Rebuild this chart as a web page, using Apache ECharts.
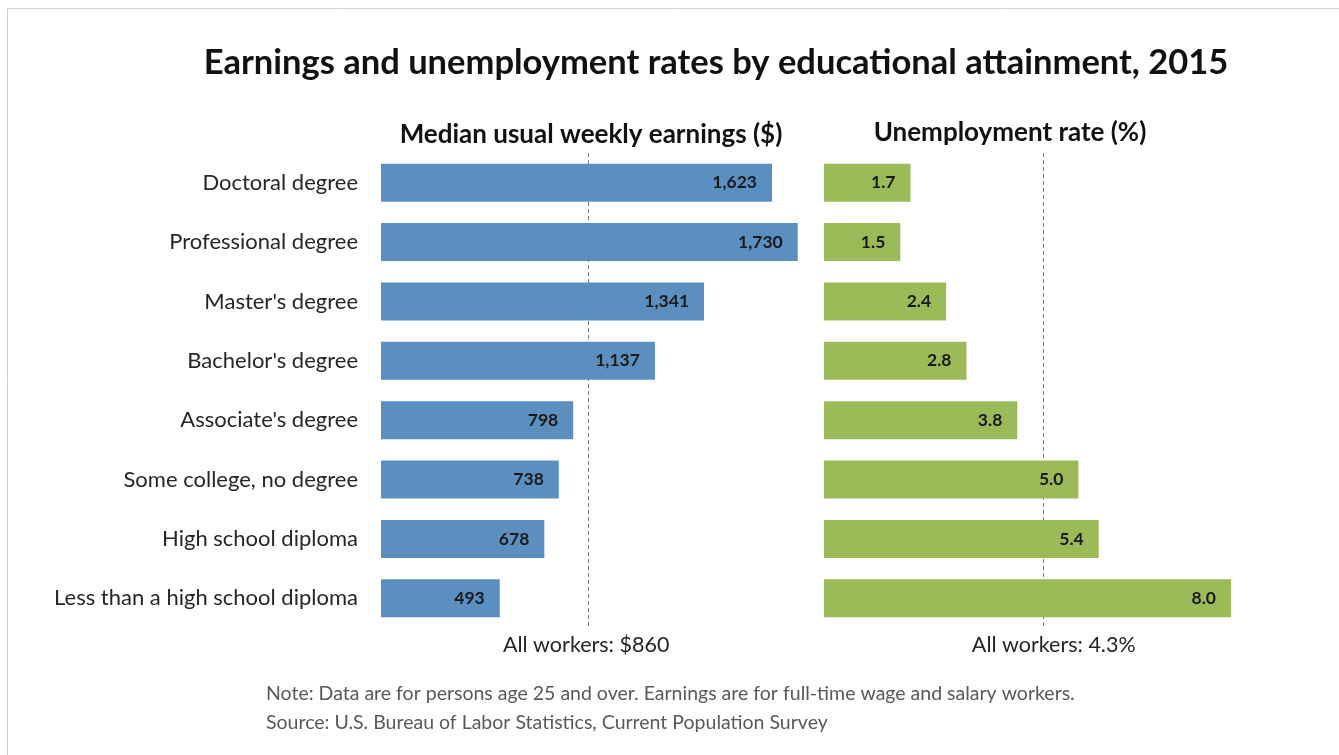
<!DOCTYPE html>
<html>
<head>
<meta charset="utf-8">
<script src="https://cdn.jsdelivr.net/npm/echarts@6/dist/echarts.min.js"></script>
<style>
html,body{margin:0;padding:0;background:#fff;}
#c{width:1339px;height:755px;}
</style>
</head>
<body>
<div id="c"></div>
<script>
const categories = ["Doctoral degree","Professional degree","Master's degree","Bachelor's degree","Associate's degree","Some college, no degree","High school diploma","Less than a high school diploma"];
const earnings = [1623,1730,1341,1137,798,738,678,493];
const unemployment = [1.7,1.5,2.4,2.8,3.8,5.0,5.4,8.0];
const allWorkersEarnings = 860;
const allWorkersUnemployment = 4.3;
const titleText = "Earnings and unemployment rates by educational attainment, 2015";
const leftTitle = "Median usual weekly earnings ($)";
const rightTitle = "Unemployment rate (%)";
const noteText = "Note: Data are for persons age 25 and over. Earnings are for full-time wage and salary workers.";
const sourceText = "Source: U.S. Bureau of Labor Statistics, Current Population Survey";

const FONT = "Lato";
const chart = echarts.init(document.getElementById('c'));
const dashed = {color:'#7a7a7a', type:[4,3], width:1};
const labelStyle = {show:true, position:'insideRight', distance:15, color:'#1a1a1a', fontFamily:FONT, fontWeight:'bold', fontSize:17.5};

chart.setOption({
  backgroundColor:'#fff',
  animation:false,
  title:[
    {text:titleText, left:711, textAlign:'center', top:40, textStyle:{fontFamily:FONT, fontWeight:'bold', fontSize:34.5, color:'#111'}},
    {text:leftTitle, left:586, textAlign:'center', top:117, textStyle:{fontFamily:FONT, fontWeight:'bold', fontSize:26, color:'#111'}},
    {text:rightTitle, left:1005, textAlign:'center', top:115, textStyle:{fontFamily:FONT, fontWeight:'bold', fontSize:26, color:'#111'}},
    {text:noteText, left:261, top:679, textStyle:{fontFamily:FONT, fontWeight:'normal', fontSize:19.5, color:'#595959'}},
    {text:sourceText, left:261, top:708, textStyle:{fontFamily:FONT, fontWeight:'normal', fontSize:19.5, color:'#595959'}}
  ],
  grid:[
    {left:381, top:153, width:433.6, height:475},
    {left:824, top:153, width:407, height:475}
  ],
  xAxis:[
    {gridIndex:0, type:'value', min:0, max:1800, show:false, splitLine:{show:false}},
    {gridIndex:1, type:'value', min:0, max:8, show:false, splitLine:{show:false}}
  ],
  yAxis:[
    {gridIndex:0, type:'category', data:categories, inverse:true,
     axisLine:{show:false}, axisTick:{show:false},
     axisLabel:{margin:23, fontFamily:FONT, fontSize:22, color:'#262626'}},
    {gridIndex:1, type:'category', data:categories, inverse:true, show:false}
  ],
  series:[
    {type:'bar', xAxisIndex:0, yAxisIndex:0, data:earnings, barCategoryGap:'36%',
     itemStyle:{color:'#5B8FC0'}, z:3,
     label:Object.assign({}, labelStyle, {formatter:p=>p.value.toLocaleString('en-US')}),
     markLine:{symbol:'none', silent:true, z:1, label:{show:false}, lineStyle:dashed, data:[{xAxis:allWorkersEarnings}]}},
    {type:'bar', xAxisIndex:1, yAxisIndex:1, data:unemployment, barCategoryGap:'36%',
     itemStyle:{color:'#9BBB59'}, z:3,
     label:Object.assign({}, labelStyle, {formatter:p=>p.value.toFixed(1)}),
     markLine:{symbol:'none', silent:true, z:1, label:{show:false}, lineStyle:dashed, data:[{xAxis:allWorkersUnemployment}]}}
  ]
});

const xL = chart.convertToPixel({gridIndex:0}, [allWorkersEarnings, 0])[0];
const xR = chart.convertToPixel({gridIndex:1}, [allWorkersUnemployment, 0])[0];
chart.setOption({
  graphic:[
    {type:'rect', shape:{x:7.5, y:8.5, width:1340, height:760}, style:{fill:'none', stroke:'#d0d0d0', lineWidth:1}, silent:true},
    {type:'text', x:xL - 2, y:645, style:{text:'All workers: $' + allWorkersEarnings, fontFamily:FONT, fontSize:21.5, fill:'#262626', textAlign:'center', textVerticalAlign:'middle'}},
    {type:'text', x:xR + 11, y:645, style:{text:'All workers: ' + allWorkersUnemployment.toFixed(1) + '%', fontFamily:FONT, fontSize:21.5, fill:'#262626', textAlign:'center', textVerticalAlign:'middle'}}
  ]
});
</script>
</body>
</html>
